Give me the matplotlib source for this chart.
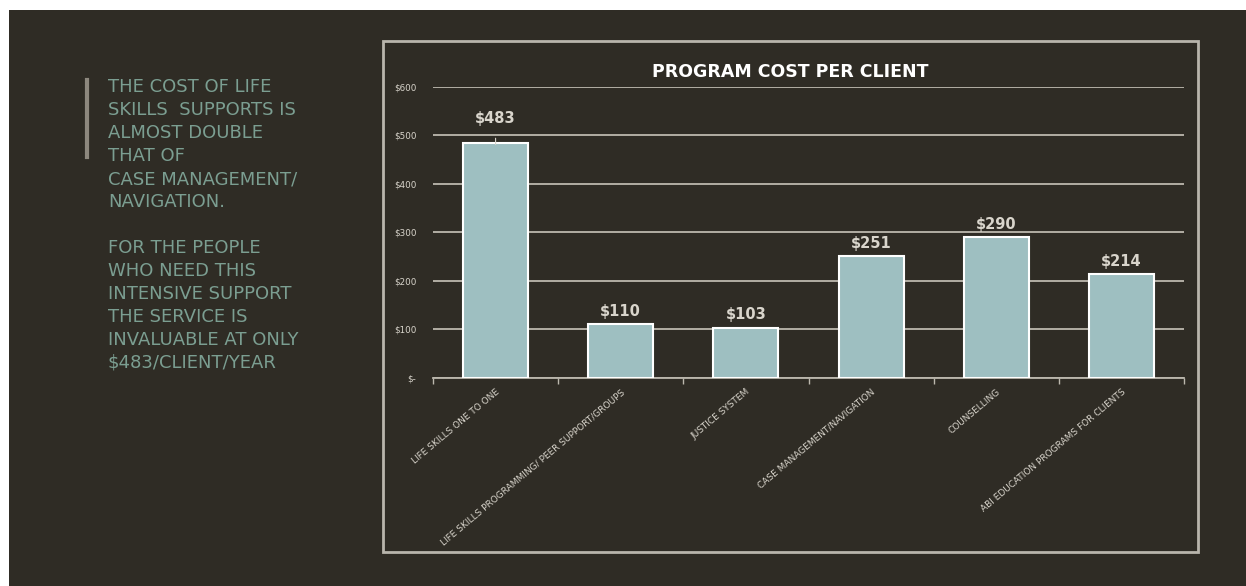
"""
Program cost per client - bar chart on a dark slide with a side note.
"""

import matplotlib.pyplot as plt
from matplotlib.patches import Rectangle


# ─────────────────────────────────────────────────────────────────────────────
# Data
# ─────────────────────────────────────────────────────────────────────────────

programs = [
    "LIFE SKILLS ONE TO ONE",
    "LIFE SKILLS PROGRAMMING/ PEER SUPPORT/GROUPS",
    "JUSTICE SYSTEM",
    "CASE MANAGEMENT/NAVIGATION",
    "COUNSELLING",
    "ABI EDUCATION PROGRAMS FOR CLIENTS",
]
cost_per_client = [483, 110, 103, 251, 290, 214]

y_ticks = [0, 100, 200, 300, 400, 500, 600]
y_tick_labels = ["$-", "$100", "$200", "$300", "$400", "$500", "$600"]

note_lines = [
    "THE COST OF LIFE",
    "SKILLS  SUPPORTS IS",
    "ALMOST DOUBLE",
    "THAT OF",
    "CASE MANAGEMENT/",
    "NAVIGATION.",
    "",
    "FOR THE PEOPLE",
    "WHO NEED THIS",
    "INTENSIVE SUPPORT",
    "THE SERVICE IS",
    "INVALUABLE AT ONLY",
    "$483/CLIENT/YEAR",
]

# ─────────────────────────────────────────────────────────────────────────────
# Style
# ─────────────────────────────────────────────────────────────────────────────

W, H = 1246, 586
BG = "#2f2c25"
BAR = "#9ebfc1"
GRID = "#bcb8ae"
TEXT = "#d9d5cc"
NOTE = "#7b9e91"

fig = plt.figure(figsize=(W / 100, H / 100), dpi=100, facecolor="white")

# dark slide background (thin white margin top / left)
fig.patches.append(Rectangle((9 / W, 0), 1, (H - 10) / H, transform=fig.transFigure,
                             facecolor=BG, edgecolor="none", zorder=-2))

# chart frame
fig.patches.append(Rectangle((383 / W, (H - 552) / H), (1198 - 383) / W, (552 - 41) / H,
                             transform=fig.transFigure, facecolor="none",
                             edgecolor="#b9b5ac", linewidth=2, zorder=-1))

# side note with vertical accent line
fig.add_artist(plt.Line2D([87 / W, 87 / W], [1 - 80 / H, 1 - 157 / H],
                          transform=fig.transFigure, color="#8d887e", linewidth=3))
for i, line in enumerate(note_lines):
    fig.text(108 / W, 1 - (87 + 23 * i) / H, line, color=NOTE, fontsize=13,
             ha="left", va="center", family="DejaVu Sans")

# ─────────────────────────────────────────────────────────────────────────────
# Bar chart
# ─────────────────────────────────────────────────────────────────────────────

ax = fig.add_axes([433 / W, (H - 377.7) / H, (1184 - 433) / W, (377.7 - 86.7) / H])
ax.set_facecolor("none")
ax.set_zorder(2)
x = list(range(len(programs)))
bars = ax.bar(x, cost_per_client, width=0.52, color=BAR, edgecolor="white",
              linewidth=1.5, zorder=3)

ax.set_xlim(-0.5, len(programs) - 0.5)
ax.set_ylim(0, 600)
ax.set_yticks(y_ticks)
ax.set_yticklabels(y_tick_labels, fontsize=6.3, color=TEXT)
ax.tick_params(axis="y", length=0, pad=12)
ax.grid(axis="y", color=GRID, linewidth=1.3, zorder=1)

ax.set_xticks(x)
ax.set_xticklabels(programs, rotation=40, ha="right", rotation_mode="anchor",
                   fontsize=6.5, color=TEXT)
ax.tick_params(axis="x", length=0, pad=7)
ax.set_xticks([i - 0.5 for i in range(len(programs) + 1)], minor=True)
ax.tick_params(axis="x", which="minor", length=4, color=GRID, width=1)

for side in ["top", "right", "left"]:
    ax.spines[side].set_visible(False)
ax.spines["bottom"].set_color(GRID)
ax.spines["bottom"].set_linewidth(1.3)

for i, (bar, val) in enumerate(zip(bars, cost_per_client)):
    cx = bar.get_x() + bar.get_width() / 2
    if i == 0:
        ax.annotate(f"${val}", xy=(cx, val - 2), xytext=(cx, val + 52),
                    ha="center", va="center", fontsize=10.5, color=TEXT,
                    fontweight="bold",
                    arrowprops=dict(arrowstyle="-", color=TEXT, lw=0.8,
                                    shrinkA=7, shrinkB=0))
    else:
        ax.text(cx, val + 11, f"${val}", ha="center", va="bottom",
                fontsize=10.5, color=TEXT, fontweight="bold")

fig.text(790 / W, 1 - 72 / H, "PROGRAM COST PER CLIENT", ha="center", va="center",
         fontsize=12.5, fontweight="bold", color="white")

plt.savefig("out.png", dpi=100, facecolor=fig.get_facecolor())
print("Saved: out.png")
